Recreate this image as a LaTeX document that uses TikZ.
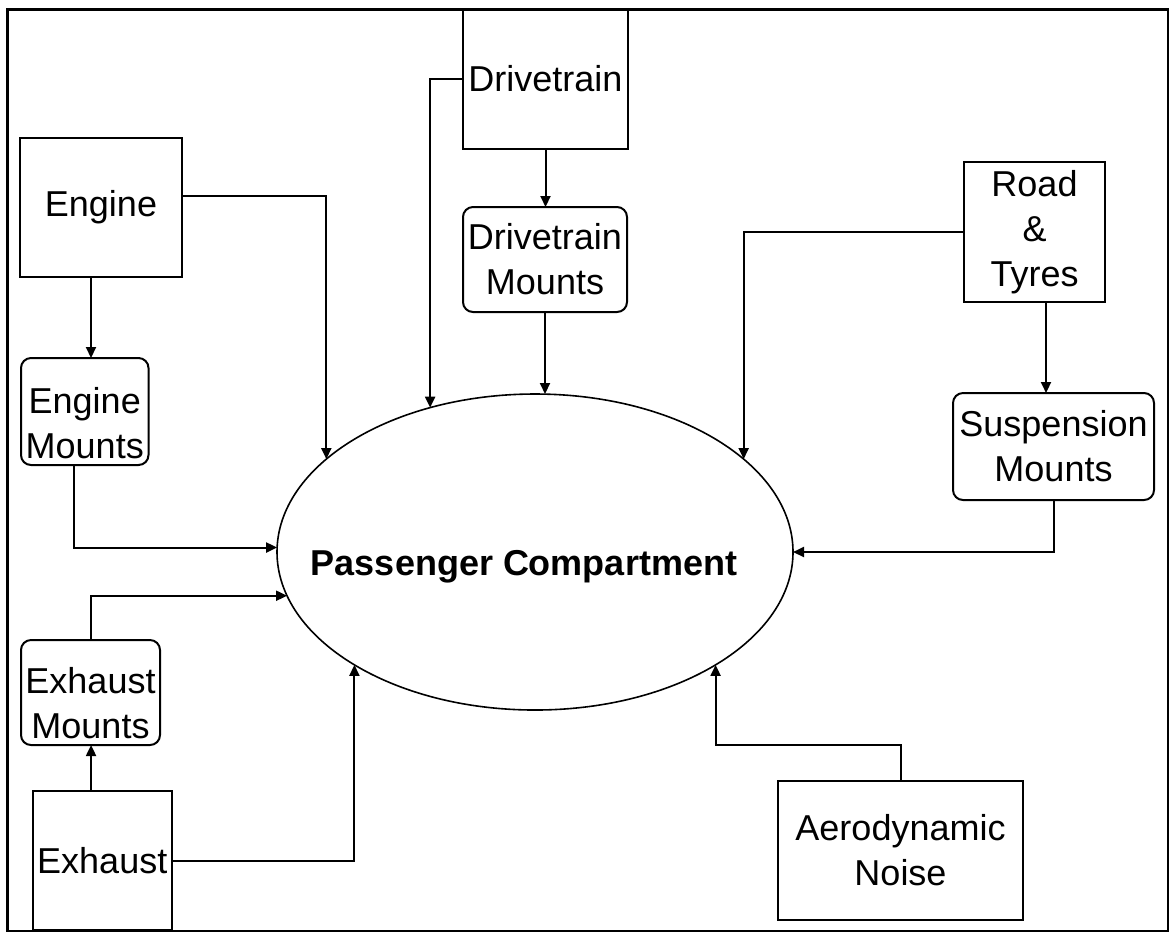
\documentclass[tikz,border=0pt]{standalone}
\usepackage{fontspec}
\setmainfont{Liberation Sans}
\usetikzlibrary{arrows.meta,shapes.geometric}
\begin{document}
\begin{tikzpicture}[x=0.5pt,y=-0.5pt,
  box/.style={draw,line width=1pt,rectangle,inner sep=0pt,outer sep=0pt,align=center,font=\fontsize{18}{22.5}\selectfont},
  mbox/.style={box,rounded corners=5pt},
  arr/.style={line width=1pt,-{Triangle[length=5.5pt,width=5pt]}},
  ]
\useasboundingbox (0,0) rectangle (1170,934);
\draw[line width=1.2pt] (7.5,9.5) rectangle (1168,931);

\node[box,minimum width=82.5pt,minimum height=70pt] (drv) at (545.5,79) {Drivetrain};
\node[mbox,minimum width=82pt,minimum height=52.5pt] (dm) at (545,259.5) {Drivetrain\\Mounts};
\node[box,minimum width=81.25pt,minimum height=69.5pt] (eng) at (101,207.5) {Engine};
\node[mbox,minimum width=63.75pt,minimum height=53.5pt] (em) at (84.75,411.5) {\raisebox{-7.5pt}[\height][\depth]{\begin{tabular}{@{}c@{}}Engine\\Mounts\end{tabular}}};
\node[mbox,minimum width=69.5pt,minimum height=52.5pt] (exm) at (90.5,692.5) {\raisebox{-7pt}[\height][\depth]{\begin{tabular}{@{}c@{}}Exhaust\\Mounts\end{tabular}}};
\node[box,minimum width=69.75pt,minimum height=69.5pt] (exh) at (102.25,860.5) {Exhaust};
\node[box,minimum width=70.5pt,minimum height=70pt] (rt) at (1034.5,232) {Road\\\&\\Tyres};
\node[mbox,minimum width=100.5pt,minimum height=53.5pt] (sm) at (1053.5,446.5) {Suspension\\Mounts};
\node[box,minimum width=122.5pt,minimum height=69.5pt] (an) at (900.5,850.5) {Aerodynamic\\Noise};
\node[draw,ellipse,line width=0.8pt,minimum width=258pt,minimum height=158pt,inner sep=0pt,outer sep=0pt] (ell) at (535,552) {};
\node[font=\fontsize{18}{22.5}\selectfont\bfseries] (pc) at (524,567) {Passenger Compartment};

\draw[arr] (drv.south) -- (drv.south |- dm.north);
\draw[arr] (dm.south) -- (dm.south |- ell.north);
\draw[arr] (drv.west) -| (ell.126);
\draw[arr] ([yshift=5.75pt]eng.east) -| (ell.156);
\draw[arr] ([xshift=-5pt]eng.south) -- ([xshift=-5pt]eng.south |- em.north);
\draw[arr] ([xshift=-5.6pt]em.south) |- (ell.179);
\draw[arr] ([xshift=-5.6pt]exh.north) -- ([xshift=-5.6pt]exh.north |- exm.south);
\draw[arr] (exm.north) |- (ell.-170);
\draw[arr] (exh.east) -| (ell.-148);
\draw[arr] (rt.west) -| (ell.24);
\draw[arr] ([xshift=5.75pt]rt.south) -- ([xshift=5.75pt]rt.south |- sm.north);
\draw[arr] (sm.south) |- (ell.east);
\draw[arr] (an.north) -- ++(0,-36) -| (ell.-32);
\end{tikzpicture}
\end{document}
